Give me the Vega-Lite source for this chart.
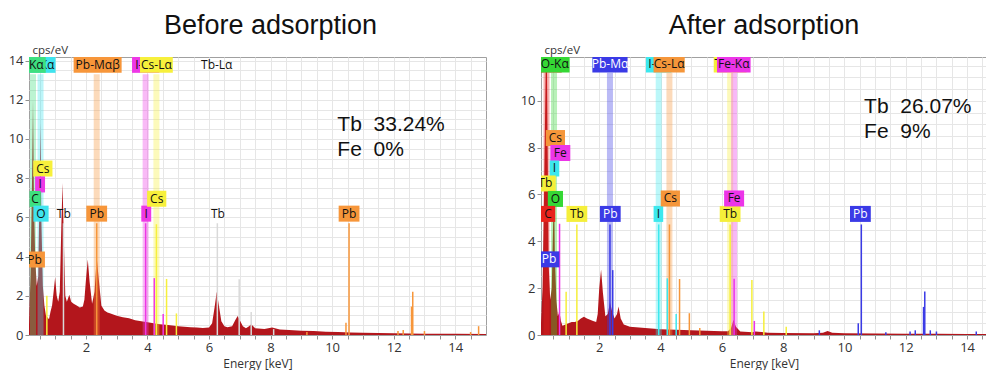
{
 "$schema": "https://vega.github.io/schema/vega-lite/v6.json",
 "background": "white",
 "padding": {"left": 7, "top": 11, "right": 0, "bottom": 0},
 "config": {
  "view": {"stroke": "#a0a0a0", "strokeWidth": 1},
  "axis": {"grid": true, "gridColor": "#e6e6e6", "gridWidth": 1, "domain": false, "tickColor": "#909090", "tickSize": 4, "labelFont": "Open Sans", "labelFontSize": 13, "labelColor": "#333333", "titleFont": "Open Sans", "titleFontSize": 12, "titleFontWeight": "normal", "titleColor": "#333333", "labelPadding": 2, "labelOverlap": false, "format": "d"},
  "title": {"font": "Liberation Sans", "fontSize": 27, "fontWeight": "normal", "color": "#111111", "offset": 4}
 },
 "datasets": {
  "specL": [
   {"E":0.15,"c":0.5},{"E":0.2,"c":3},{"E":0.25,"c":8},{"E":0.28,"c":12.0},{"E":0.31,"c":7},{"E":0.35,"c":4},{"E":0.4,"c":2.5},{"E":0.45,"c":3},{"E":0.5,"c":8},{"E":0.525,"c":10.8},{"E":0.55,"c":6},{"E":0.6,"c":2.5},{"E":0.65,"c":1.5},{"E":0.7,"c":1.0},{"E":0.8,"c":0.8},{"E":0.85,"c":1.2},{"E":0.9,"c":1.5},{"E":0.95,"c":2.2},{"E":1.0,"c":2.95},{"E":1.05,"c":2.0},{"E":1.1,"c":1.7},{"E":1.15,"c":2.2},{"E":1.2,"c":5.5},{"E":1.24,"c":7.75},{"E":1.28,"c":5},{"E":1.33,"c":2.0},{"E":1.38,"c":1.7},{"E":1.46,"c":2.05},{"E":1.52,"c":1.7},{"E":1.6,"c":1.6},{"E":1.7,"c":1.5},{"E":1.8,"c":1.4},{"E":1.9,"c":1.45},{"E":1.95,"c":1.8},{"E":2.0,"c":2.8},{"E":2.06,"c":3.85},{"E":2.12,"c":2.7},{"E":2.2,"c":1.6},{"E":2.28,"c":2.2},{"E":2.35,"c":3.95},{"E":2.42,"c":2.8},{"E":2.5,"c":1.5},{"E":2.6,"c":1.25},{"E":2.7,"c":1.15},{"E":2.8,"c":1.1},{"E":3.0,"c":0.98},{"E":3.2,"c":0.9},{"E":3.4,"c":0.85},{"E":3.6,"c":0.75},{"E":3.8,"c":0.7},{"E":4.0,"c":0.65},{"E":4.2,"c":0.6},{"E":4.4,"c":0.55},{"E":4.6,"c":0.52},{"E":4.8,"c":0.48},{"E":5.0,"c":0.45},{"E":5.2,"c":0.42},{"E":5.4,"c":0.4},{"E":5.6,"c":0.38},{"E":5.8,"c":0.36},{"E":6.0,"c":0.38},{"E":6.1,"c":0.6},{"E":6.18,"c":1.4},{"E":6.25,"c":2.2},{"E":6.32,"c":1.5},{"E":6.4,"c":0.7},{"E":6.5,"c":0.45},{"E":6.6,"c":0.4},{"E":6.75,"c":0.45},{"E":6.85,"c":0.75},{"E":6.93,"c":0.97},{"E":7.0,"c":0.75},{"E":7.1,"c":0.45},{"E":7.2,"c":0.35},{"E":7.3,"c":0.45},{"E":7.37,"c":0.55},{"E":7.5,"c":0.35},{"E":7.8,"c":0.3},{"E":8.05,"c":0.38},{"E":8.3,"c":0.28},{"E":8.6,"c":0.25},{"E":9.0,"c":0.22},{"E":9.4,"c":0.2},{"E":9.8,"c":0.17},{"E":10.2,"c":0.15},{"E":10.6,"c":0.13},{"E":11.0,"c":0.12},{"E":11.5,"c":0.1},{"E":12.0,"c":0.09},{"E":12.5,"c":0.08},{"E":13.0,"c":0.07},{"E":14.0,"c":0.06},{"E":15.0,"c":0.05}
  ],
  "specR": [
   {"E":0.1,"c":0.5},{"E":0.15,"c":2},{"E":0.2,"c":6},{"E":0.25,"c":11},{"E":0.28,"c":14},{"E":0.31,"c":9},{"E":0.35,"c":3},{"E":0.4,"c":1.5},{"E":0.45,"c":2},{"E":0.5,"c":5},{"E":0.525,"c":6.4},{"E":0.55,"c":3.5},{"E":0.6,"c":1.5},{"E":0.65,"c":0.8},{"E":0.7,"c":1.0},{"E":0.75,"c":0.6},{"E":0.8,"c":0.4},{"E":0.9,"c":0.45},{"E":1.0,"c":0.5},{"E":1.1,"c":0.55},{"E":1.2,"c":0.55},{"E":1.3,"c":0.6},{"E":1.4,"c":0.7},{"E":1.5,"c":0.78},{"E":1.6,"c":0.7},{"E":1.7,"c":0.65},{"E":1.8,"c":0.6},{"E":1.9,"c":0.55},{"E":1.95,"c":0.9},{"E":2.0,"c":2.0},{"E":2.06,"c":2.8},{"E":2.12,"c":1.8},{"E":2.2,"c":0.8},{"E":2.28,"c":0.9},{"E":2.35,"c":1.4},{"E":2.42,"c":1.0},{"E":2.5,"c":0.7},{"E":2.58,"c":0.9},{"E":2.63,"c":1.22},{"E":2.7,"c":0.7},{"E":2.8,"c":0.45},{"E":3.0,"c":0.35},{"E":3.5,"c":0.3},{"E":4.0,"c":0.25},{"E":4.5,"c":0.22},{"E":5.0,"c":0.2},{"E":5.5,"c":0.18},{"E":6.0,"c":0.16},{"E":6.2,"c":0.16},{"E":6.3,"c":0.3},{"E":6.38,"c":0.65},{"E":6.46,"c":0.35},{"E":6.6,"c":0.15},{"E":7.0,"c":0.12},{"E":7.1,"c":0.15},{"E":7.5,"c":0.1},{"E":8.0,"c":0.09},{"E":9.0,"c":0.08},{"E":9.3,"c":0.1},{"E":9.45,"c":0.17},{"E":9.6,"c":0.1},{"E":10.0,"c":0.07},{"E":11.0,"c":0.06},{"E":12.0,"c":0.05},{"E":13.0,"c":0.05},{"E":14.0,"c":0.04},{"E":14.65,"c":0.04}
  ],
  "bandsL": [
   {"E":0.28,"el":"C"},{"E":0.525,"el":"O"},{"E":2.35,"el":"Pb"},{"E":3.94,"el":"I"},{"E":4.29,"el":"Cs"}
  ],
  "bandsR": [
   {"E":0.28,"el":"C"},{"E":0.525,"el":"O"},{"E":2.35,"el":"Pb"},{"E":3.94,"el":"I"},{"E":4.29,"el":"Cs"},{"E":6.27,"el":"Tb"},{"E":6.40,"el":"Fe"}
  ],
  "linesL": [
   {"E":0.73,"h":2.0,"el":"Cs"},{"E":1.27,"h":5.7,"el":"Tb"},{"E":2.35,"h":5.7,"el":"Pb"},{"E":3.94,"h":5.7,"el":"I"},{"E":4.22,"h":2.9,"el":"I"},{"E":4.29,"h":5.65,"el":"Cs"},{"E":4.51,"h":1.07,"el":"I"},{"E":4.62,"h":2.86,"el":"Cs"},{"E":4.94,"h":1.1,"el":"Cs"},{"E":6.27,"h":5.7,"el":"Tb"},{"E":6.98,"h":2.85,"el":"Tb"},{"E":7.37,"h":1.17,"el":"Tb"},{"E":8.1,"h":0.3,"el":"Tb"},{"E":9.18,"h":0.15,"el":"Pb"},{"E":10.45,"h":0.63,"el":"Pb"},{"E":10.55,"h":5.7,"el":"Pb"},{"E":12.14,"h":0.2,"el":"Pb"},{"E":12.31,"h":0.25,"el":"Pb"},{"E":12.58,"h":1.45,"el":"Pb"},{"E":12.62,"h":2.2,"el":"Pb"},{"E":13.0,"h":0.2,"el":"Pb"},{"E":14.5,"h":0.15,"el":"Pb"},{"E":14.76,"h":0.45,"el":"Pb"}
  ],
  "linesR": [
   {"E":0.705,"h":4.75,"el":"Fe"},{"E":0.92,"h":1.85,"el":"Tb"},{"E":1.27,"h":4.72,"el":"Tb"},{"E":2.35,"h":4.72,"el":"Pb"},{"E":2.44,"h":2.77,"el":"Pb"},{"E":3.94,"h":4.72,"el":"I"},{"E":4.22,"h":2.42,"el":"I"},{"E":4.29,"h":4.72,"el":"Cs"},{"E":4.51,"h":0.9,"el":"I"},{"E":4.62,"h":2.39,"el":"Cs"},{"E":4.94,"h":0.93,"el":"Cs"},{"E":5.28,"h":0.3,"el":"Cs"},{"E":6.27,"h":4.72,"el":"Tb"},{"E":6.40,"h":2.4,"el":"Fe"},{"E":6.98,"h":2.35,"el":"Tb"},{"E":7.06,"h":0.6,"el":"Fe"},{"E":7.37,"h":1.0,"el":"Tb"},{"E":8.1,"h":0.35,"el":"Tb"},{"E":9.18,"h":0.2,"el":"Pb"},{"E":10.45,"h":0.5,"el":"Pb"},{"E":10.55,"h":4.72,"el":"Pb"},{"E":11.35,"h":0.12,"el":"Pb"},{"E":12.14,"h":0.15,"el":"Pb"},{"E":12.31,"h":0.2,"el":"Pb"},{"E":12.58,"h":1.2,"el":"Pb"},{"E":12.62,"h":1.86,"el":"Pb"},{"E":12.8,"h":0.2,"el":"Pb"},{"E":13.0,"h":0.15,"el":"Pb"},{"E":14.3,"h":0.15,"el":"Pb"}
  ],
  "labelsL": [
   {"E":0.52,"y":13.78,"label":"O-Kα","el":"O"},{"E":0.2,"y":13.78,"label":"C-Kα","el":"C"},{"E":2.38,"y":13.78,"label":"Pb-Mαβ","el":"Pb"},{"E":3.94,"y":13.78,"label":"I-Lα","el":"I"},{"E":4.29,"y":13.78,"label":"Cs-Lα","el":"Cs"},{"E":6.25,"y":13.78,"label":"Tb-Lα","el":"Tb"},
   {"E":0.6,"y":8.49,"label":"Cs","el":"Cs"},{"E":0.51,"y":7.68,"label":"I","el":"I"},{"E":0.35,"y":6.94,"label":"C","el":"C"},{"E":0.54,"y":6.19,"label":"O","el":"O"},{"E":0.33,"y":3.85,"label":"Pb","el":"Pb"},{"E":1.28,"y":6.19,"label":"Tb","el":"Tb"},{"E":2.35,"y":6.19,"label":"Pb","el":"Pb"},{"E":3.96,"y":6.19,"label":"I","el":"I"},{"E":4.3,"y":6.95,"label":"Cs","el":"Cs"},{"E":6.29,"y":6.19,"label":"Tb","el":"Tb"},{"E":10.55,"y":6.19,"label":"Pb","el":"Pb"}
  ],
  "labelsR": [
   {"E":0.28,"y":11.55,"label":"C-Kα","el":"C"},{"E":0.55,"y":11.55,"label":"O-Kα","el":"O"},{"E":2.35,"y":11.55,"label":"Pb-Mα","el":"Pb"},{"E":3.94,"y":11.55,"label":"I-Lα","el":"I"},{"E":4.28,"y":11.55,"label":"Cs-Lα","el":"Cs"},{"E":6.27,"y":11.55,"label":"Tb-Lα","el":"Tb"},{"E":6.39,"y":11.55,"label":"Fe-Kα","el":"Fe"},
   {"E":0.57,"y":8.41,"label":"Cs","el":"Cs"},{"E":0.73,"y":7.77,"label":"Fe","el":"Fe"},{"E":0.54,"y":7.11,"label":"I","el":"I"},{"E":0.24,"y":6.47,"label":"Tb","el":"Tb"},{"E":0.57,"y":5.81,"label":"O","el":"O"},{"E":0.33,"y":5.17,"label":"C","el":"C"},{"E":0.36,"y":3.23,"label":"Pb","el":"Pb"},{"E":1.27,"y":5.17,"label":"Tb","el":"Tb"},{"E":2.36,"y":5.17,"label":"Pb","el":"Pb"},{"E":3.93,"y":5.17,"label":"I","el":"I"},{"E":4.32,"y":5.83,"label":"Cs","el":"Cs"},{"E":6.27,"y":5.17,"label":"Tb","el":"Tb"},{"E":6.4,"y":5.83,"label":"Fe","el":"Fe"},{"E":10.52,"y":5.17,"label":"Pb","el":"Pb"}
  ],
  "notesL": [
   {"E":10.17,"y":10.7,"text":"Tb\u00a0\u00a033.24%"},{"E":10.17,"y":9.44,"text":"Fe\u00a0\u00a00%"}
  ],
  "notesR": [
   {"E":10.64,"y":9.75,"text":"Tb\u00a0\u00a026.07%"},{"E":10.64,"y":8.68,"text":"Fe\u00a0\u00a09%"}
  ]
 },
 "resolve": {"scale": {"x": "independent", "y": "independent", "color": "independent", "shape": "independent"}},
 "spacing": 32,
 "hconcat": [
  {
   "width": 457, "height": 278,
   "title": {"text": "Before adsorption", "dx": 13},
   "resolve": {"axis": {"y": "independent"}},
   "encoding": {
    "x": {"field": "E", "type": "quantitative", "scale": {"domain": [0.15, 15], "nice": false, "zero": false},
     "axis": {"title": "Energy [keV]", "titlePadding": 4, "values": [0.5,1,1.5,2,2.5,3,3.5,4,4.5,5,5.5,6,6.5,7,7.5,8,8.5,9,9.5,10,10.5,11,11.5,12,12.5,13,13.5,14,14.5], "labelExpr": "datum.value % 2 === 0 ? datum.label : ''"}}
   },
   "layer": [
    {"data": {"name": "specL"}, "mark": {"type": "area", "color": "#b3161c", "clip": true},
     "encoding": {"y": {"field": "c", "type": "quantitative", "scale": {"domain": [0, 14.18], "nice": false},
      "axis": {"title": "cps/eV", "orient": "left", "grid": false, "titleFontSize": 11.5, "titleAngle": 0, "titleAlign": "left", "titleBaseline": "bottom", "titleX": 3, "titleY": -2, "values": [0,2,4,6,8,10,12,14]}}}},
    {"data": {"name": "bandsL"}, "mark": {"type": "rule", "strokeWidth": 6, "opacity": 0.35, "clip": true},
     "encoding": {"y": {"datum": 13.3, "axis": {"orient": "right", "title": null, "labels": false, "ticks": false, "domain": false, "grid": true, "values": [0.5,1,1.5,2,2.5,3,3.5,4,4.5,5,5.5,6,6.5,7,7.5,8,8.5,9,9.5,10,10.5,11,11.5,12,12.5,13,13.5,14]}}, "y2": {"datum": 0},
      "color": {"field": "el", "type": "nominal", "scale": {"domain": ["C","O","Pb","I","Cs","Tb"], "range": ["#3ee07f","#3fe3ee","#f7963a","#ee38e6","#f7f03c","#d9d9d9"]}, "legend": null}}},
    {"data": {"name": "linesL"}, "mark": {"type": "rule", "strokeWidth": 1.5, "clip": true},
     "encoding": {"y": {"field": "h", "type": "quantitative", "axis": null}, "y2": {"datum": 0},
      "color": {"field": "el", "type": "nominal", "legend": null}}},
    {"data": {"name": "labelsL"}, "transform": [{"filter": {"field": "label", "oneOf": ["O-Kα","I-Lα"]}}],
     "mark": {"type": "point", "filled": true, "opacity": 1, "size": 256, "clip": true},
     "encoding": {"y": {"field": "y", "type": "quantitative", "axis": null}, "color": {"field": "el", "type": "nominal", "legend": null},
      "shape": {"field": "label", "type": "nominal", "legend": null, "scale": {"domain": ["Pb","Cs","I","C","O","Tb","Pb-Mαβ","Cs-Lα","I-Lα","C-Kα","O-Kα","Tb-Lα"], "range": ["M-1.3,-1H1.3V1H-1.3Z","M-1.2,-1H1.2V1H-1.2Z","M-0.62,-1H0.62V1H-0.62Z","M-0.7,-1H0.7V1H-0.7Z","M-0.95,-1H0.95V1H-0.95Z","M-1.3,-1H1.3V1H-1.3Z","M-3,-1H3V1H-3Z","M-2.05,-1H2.05V1H-2.05Z","M-1.7,-1H1.7V1H-1.7Z","M-1.9,-1H1.9V1H-1.9Z","M-1.9,-1H1.9V1H-1.9Z","M-2.1,-1H2.1V1H-2.1Z"]}}}},
    {"data": {"name": "labelsL"}, "transform": [{"filter": {"field": "label", "oneOf": ["O-Kα","I-Lα"]}}],
     "mark": {"type": "text", "font": "Open Sans", "fontSize": 12, "color": "#111111", "clip": true},
     "encoding": {"y": {"field": "y", "type": "quantitative", "axis": null}, "text": {"field": "label"}}},
    {"data": {"name": "labelsL"}, "transform": [{"filter": {"not": {"field": "label", "oneOf": ["O-Kα","I-Lα","Tb","Tb-Lα"]}}}],
     "mark": {"type": "point", "filled": true, "opacity": 1, "size": 256, "clip": true},
     "encoding": {"y": {"field": "y", "type": "quantitative", "axis": null}, "color": {"field": "el", "type": "nominal", "legend": null},
      "shape": {"field": "label", "type": "nominal", "legend": null}}},
    {"data": {"name": "labelsL"}, "transform": [{"filter": {"not": {"field": "label", "oneOf": ["O-Kα","I-Lα"]}}}],
     "mark": {"type": "text", "font": "Open Sans", "fontSize": 12, "color": "#111111", "clip": true},
     "encoding": {"y": {"field": "y", "type": "quantitative", "axis": null}, "text": {"field": "label"}}},
    {"data": {"name": "notesL"}, "mark": {"type": "text", "font": "Liberation Sans", "fontSize": 21, "align": "left", "color": "#111111"},
     "encoding": {"y": {"field": "y", "type": "quantitative", "axis": null}, "text": {"field": "text"}}}
   ]
  },
  {
   "width": 446, "height": 278,
   "title": {"text": "After adsorption"},
   "resolve": {"axis": {"y": "independent"}},
   "encoding": {
    "x": {"field": "E", "type": "quantitative", "scale": {"domain": [0.1, 14.65], "nice": false, "zero": false},
     "axis": {"title": "Energy [keV]", "titlePadding": 4, "values": [0.5,1,1.5,2,2.5,3,3.5,4,4.5,5,5.5,6,6.5,7,7.5,8,8.5,9,9.5,10,10.5,11,11.5,12,12.5,13,13.5,14,14.5], "labelExpr": "datum.value % 2 === 0 ? datum.label : ''"}}
   },
   "layer": [
    {"data": {"name": "specR"}, "mark": {"type": "area", "color": "#b3161c", "clip": true},
     "encoding": {"y": {"field": "c", "type": "quantitative", "scale": {"domain": [0, 11.87], "nice": false},
      "axis": {"title": "cps/eV", "orient": "left", "grid": false, "titleFontSize": 11.5, "titleAngle": 0, "titleAlign": "left", "titleBaseline": "bottom", "titleX": 3, "titleY": -2, "values": [0,2,4,6,8,10]}}}},
    {"data": {"name": "bandsR"}, "mark": {"type": "rule", "strokeWidth": 6, "opacity": 0.35, "clip": true},
     "encoding": {"y": {"datum": 11.2, "axis": {"orient": "right", "title": null, "labels": false, "ticks": false, "domain": false, "grid": true, "values": [0.5,1,1.5,2,2.5,3,3.5,4,4.5,5,5.5,6,6.5,7,7.5,8,8.5,9,9.5,10,10.5,11,11.5]}}, "y2": {"datum": 0},
      "color": {"field": "el", "type": "nominal", "scale": {"domain": ["C","O","Pb","I","Cs","Tb","Fe"], "range": ["#e8231d","#35d835","#3a3ae6","#3ce8ee","#f5963a","#f5ef3a","#ec35e8"]}, "legend": null}}},
    {"data": {"name": "linesR"}, "mark": {"type": "rule", "strokeWidth": 1.5, "clip": true},
     "encoding": {"y": {"field": "h", "type": "quantitative", "axis": null}, "y2": {"datum": 0},
      "color": {"field": "el", "type": "nominal", "legend": null}}},
    {"data": {"name": "labelsR"}, "transform": [{"filter": {"field": "label", "oneOf": ["C-Kα","I-Lα","Tb-Lα"]}}],
     "mark": {"type": "point", "filled": true, "opacity": 1, "size": 256, "clip": true},
     "encoding": {"y": {"field": "y", "type": "quantitative", "axis": null}, "color": {"field": "el", "type": "nominal", "legend": null},
      "shape": {"field": "label", "type": "nominal", "legend": null, "scale": {"domain": ["Pb","Cs","I","C","O","Tb","Fe","Pb-Mα","Cs-Lα","I-Lα","C-Kα","O-Kα","Tb-Lα","Fe-Kα"], "range": ["M-1.3,-1H1.3V1H-1.3Z","M-1.2,-1H1.2V1H-1.2Z","M-0.6,-1H0.6V1H-0.6Z","M-0.9,-1H0.9V1H-0.9Z","M-0.95,-1H0.95V1H-0.95Z","M-1.3,-1H1.3V1H-1.3Z","M-1.25,-1H1.25V1H-1.25Z","M-2.2,-1H2.2V1H-2.2Z","M-1.95,-1H1.95V1H-1.95Z","M-1.6,-1H1.6V1H-1.6Z","M-1.9,-1H1.9V1H-1.9Z","M-1.85,-1H1.85V1H-1.85Z","M-2.05,-1H2.05V1H-2.05Z","M-2.1,-1H2.1V1H-2.1Z"]}}}},
    {"data": {"name": "labelsR"}, "transform": [{"filter": {"field": "label", "oneOf": ["C-Kα","I-Lα","Tb-Lα"]}}],
     "mark": {"type": "text", "font": "Open Sans", "fontSize": 12, "clip": true},
     "encoding": {"y": {"field": "y", "type": "quantitative", "axis": null}, "text": {"field": "label"},
      "fill": {"condition": {"test": "datum.el === 'Pb'", "value": "#ffffff"}, "value": "#111111"}}},
    {"data": {"name": "labelsR"}, "transform": [{"filter": {"not": {"field": "label", "oneOf": ["C-Kα","I-Lα","Tb-Lα"]}}}],
     "mark": {"type": "point", "filled": true, "opacity": 1, "size": 256, "clip": true},
     "encoding": {"y": {"field": "y", "type": "quantitative", "axis": null}, "color": {"field": "el", "type": "nominal", "legend": null},
      "shape": {"field": "label", "type": "nominal", "legend": null}}},
    {"data": {"name": "labelsR"}, "transform": [{"filter": {"not": {"field": "label", "oneOf": ["C-Kα","I-Lα","Tb-Lα"]}}}],
     "mark": {"type": "text", "font": "Open Sans", "fontSize": 12, "clip": true},
     "encoding": {"y": {"field": "y", "type": "quantitative", "axis": null}, "text": {"field": "label"},
      "fill": {"condition": {"test": "datum.el === 'Pb'", "value": "#ffffff"}, "value": "#111111"}}},
    {"data": {"name": "notesR"}, "mark": {"type": "text", "font": "Liberation Sans", "fontSize": 21, "align": "left", "color": "#111111"},
     "encoding": {"y": {"field": "y", "type": "quantitative", "axis": null}, "text": {"field": "text"}}}
   ]
  }
 ]
}
